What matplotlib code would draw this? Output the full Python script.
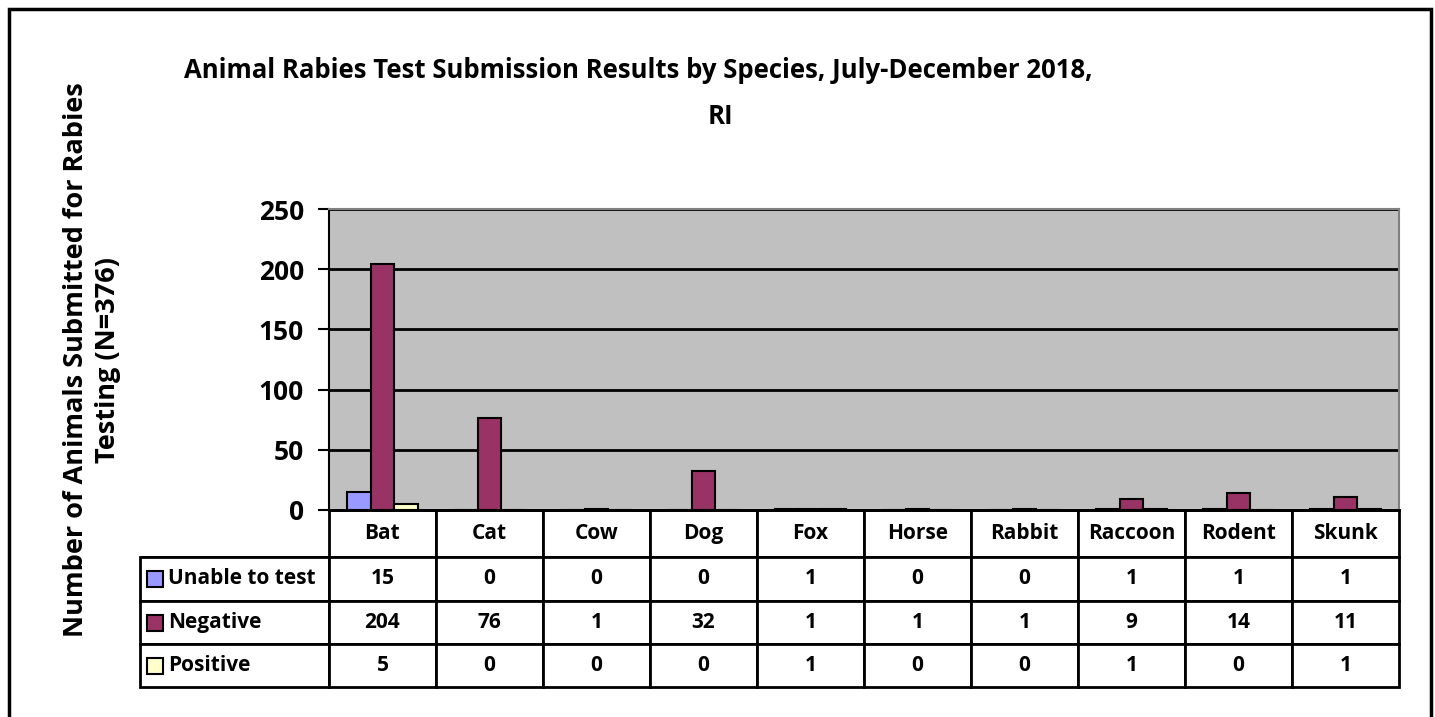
import numpy as np
import matplotlib
matplotlib.use("Agg")
import matplotlib.pyplot as plt
from matplotlib.patches import Rectangle

plt.rcParams['font.family'] = ['Open Sans', 'DejaVu Sans']
plt.rcParams['font.weight'] = 'bold'

# Данные
species = ['Bat', 'Cat', 'Cow', 'Dog', 'Fox', 'Horse', 'Rabbit', 'Raccoon', 'Rodent', 'Skunk']
series_names = ['Unable to test', 'Negative', 'Positive']
unable = [15, 0, 0, 0, 1, 0, 0, 1, 1, 1]
negative = [204, 76, 1, 32, 1, 1, 1, 9, 14, 11]
positive = [5, 0, 0, 0, 1, 0, 0, 1, 0, 1]
colors = ['#9999FF', '#993366', '#FFFFCC']

W, H = 1435, 717
fig = plt.figure(figsize=(W / 100, H / 100), dpi=100)

# Рамка вокруг всей картинки (нижний край за пределами картинки)
fig.patches.append(Rectangle((9 / W, -10 / H), 1422 / W, (H - 9 + 10) / H, transform=fig.transFigure,
                             fill=False, edgecolor='black', linewidth=2.5))

# Оси (область построения)
left, right, top, bottom = 329, 1399, 209, 510
ax = fig.add_axes([left / W, 1 - bottom / H, (right - left) / W, (bottom - top) / H])
ax.set_facecolor('#C0C0C0')

x = np.arange(len(species))
bw = 0.224
for i, vals in enumerate([unable, negative, positive]):
    ax.bar(x + (i - 1) * bw, vals, width=bw, color=colors[i], edgecolor='black',
           linewidth=1.5, zorder=3)

ax.set_xlim(-0.5, len(species) - 0.5)
ax.set_ylim(0, 250)
ax.set_yticks(np.arange(0, 251, 50))
ax.yaxis.grid(True, color='black', linewidth=2)
ax.set_axisbelow(True)
ax.set_xticks([])
ax.tick_params(axis='y', direction='out', length=8, width=1.5, labelsize=19, pad=10)
for lab in ax.get_yticklabels():
    lab.set_fontweight('bold')
for side in ['top', 'right']:
    ax.spines[side].set_color('#808080')
    ax.spines[side].set_linewidth(1.5)
ax.spines['left'].set_linewidth(1.5)
ax.spines['bottom'].set_linewidth(2)

# Таблица данных
tab_left, tab_bottom = 140, 687
row_px = [47, 44, 43, 43]
aw, ah = right - left, bottom - top
cell_text = [[''] + species]
for vals in [unable, negative, positive]:
    cell_text.append([''] + [str(v) for v in vals])
first_w = (left - tab_left)
col_w = [first_w] + [(right - left) / len(species)] * len(species)
tbl = ax.table(cellText=cell_text, cellLoc='center', colWidths=col_w,
               bbox=[(tab_left - left) / aw, -(tab_bottom - bottom) / ah,
                     (right - tab_left) / aw, (tab_bottom - bottom) / ah])
tbl.auto_set_font_size(False)
for (r, c), cell in tbl.get_celld().items():
    cell.set_height(row_px[r] / 100)
    cell.set_linewidth(2)
    cell.set_facecolor('white')
    cell.get_text().set_fontsize(15)
    cell.get_text().set_fontweight('bold')
    if r == 0 and c == 0:
        cell.visible_edges = 'B'

# Подписи строк с маркерами
row_top = bottom + row_px[0]
for i, name in enumerate(series_names):
    yc = row_top + row_px[i + 1] / 2
    row_top += row_px[i + 1]
    ax.add_patch(Rectangle(((147 - left) / aw, (bottom - yc - 8) / ah), 16 / aw, 16 / ah,
                           transform=ax.transAxes, facecolor=colors[i], edgecolor='black',
                           linewidth=1.5, clip_on=False, zorder=5))
    ax.text((168 - left) / aw, (bottom - yc) / ah, name, transform=ax.transAxes,
            fontsize=15, fontweight='bold', ha='left', va='center', zorder=5)

# Заголовок и подпись оси
fig.text(638 / W, 1 - 70 / H, 'Animal Rabies Test Submission Results by Species, July-December 2018,',
         ha='center', va='center', fontsize=18.5, fontweight='bold')
fig.text(720 / W, 1 - 116 / H, 'RI', ha='center', va='center', fontsize=18.5, fontweight='bold')
fig.text(92 / W, 1 - 360 / H, 'Number of Animals Submitted for Rabies\nTesting (N=376)',
         ha='center', va='center', rotation=90, fontsize=19.5, fontweight='bold',
         linespacing=1.3, multialignment='center')

fig.savefig('out.png', dpi=100)
